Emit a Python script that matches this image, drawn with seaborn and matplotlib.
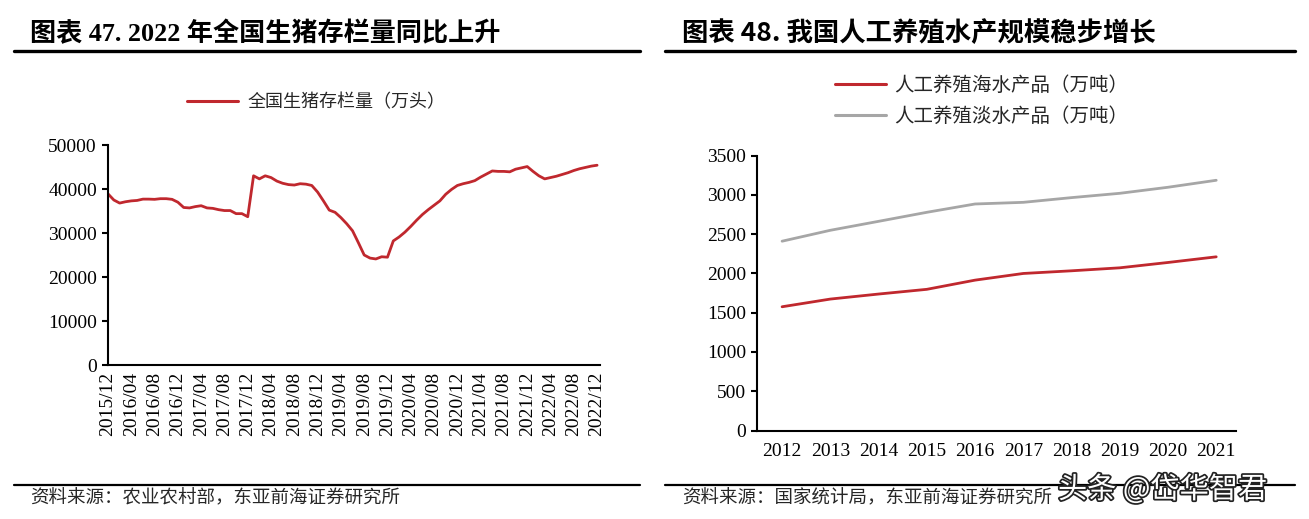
import numpy as np
import pandas as pd
import matplotlib
matplotlib.use("Agg")
import matplotlib.pyplot as plt
import matplotlib.patheffects as pe
from matplotlib.lines import Line2D
import seaborn as sns

# ---------------- data ----------------
pig_tick_labels = ["2015/12", "2016/04", "2016/08", "2016/12", "2017/04", "2017/08",
                   "2017/12", "2018/04", "2018/08", "2018/12", "2019/04", "2019/08",
                   "2019/12", "2020/04", "2020/08", "2020/12", "2021/04", "2021/08",
                   "2021/12", "2022/04", "2022/08", "2022/12"]
pig_stock = [38900, 37500, 36800, 37100, 37300, 37400, 37700, 37700, 37650, 37800,
             37800, 37650, 37000, 35800, 35700, 36000, 36200, 35700, 35600, 35300,
             35100, 35100, 34400, 34400, 33700, 43000, 42300, 43000, 42600, 41800,
             41300, 41000, 40900, 41200, 41100, 40800, 39300, 37300, 35200, 34700,
             33500, 32100, 30500, 27800, 25000, 24300, 24100, 24600, 24500, 28200,
             29100, 30200, 31500, 32900, 34200, 35300, 36300, 37300, 38800, 39900,
             40800, 41200, 41500, 41900, 42700, 43400, 44100, 44000, 44000, 43900,
             44500, 44800, 45100, 44000, 43000, 42300, 42600, 42900, 43300, 43700,
             44200, 44600, 44900, 45200, 45400]
pig_label = "全国生猪存栏量（万头）"

years = ["2012", "2013", "2014", "2015", "2016", "2017", "2018", "2019", "2020", "2021"]
sea_farmed = [1576, 1674, 1738, 1798, 1915, 2000, 2034, 2072, 2140, 2212]
fresh_farmed = [2411, 2550, 2664, 2779, 2885, 2906, 2966, 3021, 3098, 3187]
sea_label = "人工养殖海水产品（万吨）"
fresh_label = "人工养殖淡水产品（万吨）"

title_left = "图表 47. 2022 年全国生猪存栏量同比上升"
title_right = "图表 48. 我国人工养殖水产规模稳步增长"
source_left = "资料来源：农业农村部，东亚前海证券研究所"
source_right = "资料来源：国家统计局，东亚前海证券研究所"
watermark = "头条 @岱华智君"

RED = "#C0282E"
GRAY = "#A6A6A6"

# ---------------- style ----------------
sns.set_theme(style="ticks")
plt.rcParams["font.family"] = ["Liberation Serif", "Noto Sans CJK SC", "DejaVu Sans"]
plt.rcParams["axes.edgecolor"] = "black"
plt.rcParams["axes.linewidth"] = 1.5

W, H = 1309, 519
fig = plt.figure(figsize=(W / 100, H / 100), dpi=100)
fig.patch.set_facecolor("white")

def fx(px):
    return px / W

def fy(py):
    return 1 - py / H

CJK = ["Noto Sans CJK SC", "DejaVu Sans"]
NUM = ["Liberation Serif", "Noto Sans CJK SC"]

# ---------------- left chart ----------------
axL = fig.add_axes([fx(108), fy(365), fx(600) - fx(108), fy(145) - fy(365)])
pig_df = pd.DataFrame({"idx": np.arange(len(pig_stock)), "value": pig_stock})
sns.lineplot(data=pig_df, x="idx", y="value", ax=axL, color=RED, linewidth=2.0)
axL.set_xlim(0, len(pig_stock) - 1 + 0.5)
axL.set_ylim(0, 50000)
axL.set_yticks(np.arange(0, 50001, 10000))
axL.set_yticklabels([str(v) for v in range(0, 50001, 10000)], fontfamily=NUM, fontsize=14)
axL.set_xticks(np.arange(0, len(pig_stock), 4))
axL.set_xticklabels(pig_tick_labels, rotation=90, fontfamily=NUM, fontsize=14)
axL.tick_params(axis="y", length=4, width=1.5, pad=4, colors="black")
axL.tick_params(axis="x", length=0, pad=5, colors="black")
axL.set_xlabel("")
axL.set_ylabel("")
sns.despine(ax=axL)
axL.set_facecolor("white")

fig.legend(handles=[Line2D([], [], color=RED, lw=2.2)], labels=[pig_label],
           loc="center left", bbox_to_anchor=(fx(187), fy(102)),
           frameon=False, prop={"family": CJK, "size": 13},
           handlelength=2.8, handletextpad=0.55, borderpad=0, borderaxespad=0)

# ---------------- right chart ----------------
axR = fig.add_axes([fx(757), fy(430.5), fx(1236) - fx(757), fy(155.7) - fy(430.5)])
aq_df = pd.DataFrame({
    "year": list(range(len(years))) * 2,
    "value": sea_farmed + fresh_farmed,
    "series": [sea_label] * len(years) + [fresh_label] * len(years),
})
sns.lineplot(data=aq_df, x="year", y="value", hue="series", ax=axR,
             palette={sea_label: RED, fresh_label: GRAY}, linewidth=2.0, legend=False)
axR.set_xlim(-0.52, len(years) - 1 + 0.41)
axR.set_ylim(0, 3500)
axR.set_yticks(np.arange(0, 3501, 500))
axR.set_yticklabels([str(v) for v in range(0, 3501, 500)], fontfamily=NUM, fontsize=14)
axR.set_xticks(np.arange(len(years)))
axR.set_xticklabels(years, fontfamily=NUM, fontsize=14)
axR.tick_params(axis="y", length=4, width=1.5, pad=4, colors="black")
axR.tick_params(axis="x", length=0, pad=9, colors="black")
axR.set_xlabel("")
axR.set_ylabel("")
sns.despine(ax=axR)
axR.set_facecolor("white")

fig.legend(handles=[Line2D([], [], color=RED, lw=2.2), Line2D([], [], color=GRAY, lw=2.2)],
           labels=[sea_label, fresh_label],
           loc="center left", bbox_to_anchor=(fx(835), fy(101)),
           frameon=False, prop={"family": CJK, "size": 14},
           handlelength=2.6, handletextpad=0.45, borderpad=0, borderaxespad=0,
           labelspacing=0.5)

# ---------------- titles, rules, sources ----------------
fig.text(fx(30), fy(33), title_left, fontsize=18.8, fontweight="bold",
         family=NUM, va="center", ha="left", color="black")
fig.text(fx(682), fy(33), title_right, fontsize=19, fontweight="bold",
         family=CJK, va="center", ha="left", color="black")

for x0, x1 in [(14, 640), (665, 1295)]:
    fig.add_artist(Line2D([fx(x0), fx(x1)], [fy(50.5), fy(50.5)], color="black", lw=2.4,
                          transform=fig.transFigure))
    fig.add_artist(Line2D([fx(x0), fx(x1)], [fy(485), fy(485)], color="black", lw=1.6,
                          transform=fig.transFigure))

fig.text(fx(30), fy(498), source_left, fontsize=13.3, family=CJK, va="center", ha="left")
fig.text(fx(682), fy(498), source_right, fontsize=13.3, family=CJK, va="center", ha="left")

fig.text(fx(1058), fy(490), watermark, fontsize=21, family=CJK, va="center", ha="left",
         color="white",
         path_effects=[pe.withStroke(linewidth=2.5, foreground="#222222")])

fig.savefig("out.png", dpi=100, facecolor="white")
